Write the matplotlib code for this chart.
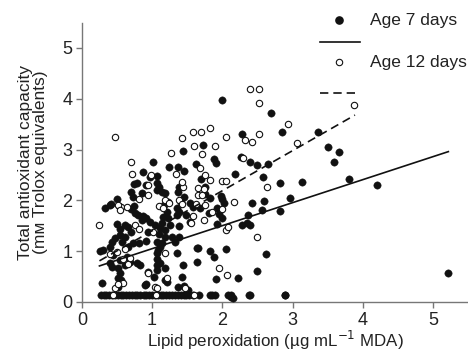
import matplotlib
matplotlib.use("Agg")
import matplotlib.pyplot as plt
from matplotlib.lines import Line2D

plt.rcParams['font.family'] = ['Liberation Sans', 'DejaVu Sans']

# ---- data: Age 7 days (filled) ----
x7 = [2.00, 2.70, 2.28, 1.72, 1.44, 1.01, 1.88, 1.91, 2.26, 2.40, 2.49, 1.62, 1.24, 1.37, 1.45, 0.87,
      0.97, 1.07, 1.69, 2.18, 0.78, 0.74, 0.91, 1.07, 1.10, 1.07, 1.14, 1.19, 0.70, 0.85, 0.73, 1.39,
      1.37, 1.45, 1.75, 1.76, 1.82, 1.98, 1.99, 2.42, 0.50, 0.41, 0.33, 0.74, 1.17, 1.41,
      2.85, 3.36, 3.50, 3.66, 3.59, 2.65, 2.58, 2.82, 3.13, 3.81, 4.21, 2.59, 2.96, 2.57, 2.82, 2.39,
      2.62, 5.21, 2.39, 2.90,
      0.40, 0.70, 0.75, 0.80, 0.87, 0.92, 0.85, 0.97, 0.50, 0.54, 0.61, 0.65, 0.70, 0.54, 0.61, 0.57,
      0.47, 0.43, 0.40, 0.30, 0.26, 0.44, 0.65, 0.73, 0.82, 0.92, 0.94, 1.04, 1.14, 1.11, 1.19, 1.25,
      1.10, 1.18, 1.07, 1.11, 1.08, 1.07, 1.35, 1.14, 1.28, 1.39, 1.32, 0.64, 0.54, 0.68, 0.61, 0.78,
      0.83, 0.40, 0.43, 0.51, 0.54, 0.51, 0.28, 0.51, 0.94, 1.02, 1.07, 1.07, 1.11, 1.07, 1.18, 1.18,
      0.90, 1.44, 1.64, 1.65, 1.82, 1.64, 1.42, 1.37, 1.45, 1.51, 1.49, 1.38, 1.54, 1.35, 1.39, 1.35,
      1.21, 1.22, 1.15, 1.22, 1.54, 1.58, 1.68, 1.81, 1.92, 1.95, 2.03, 1.99, 1.93, 2.05, 1.88, 1.91,
      2.22, 2.28, 2.35, 2.36, 2.49, 2.13, 0.55, 0.91, 1.21,
      0.27, 0.31, 0.35, 0.39, 0.43, 0.47, 0.51, 0.55, 0.59, 0.63, 0.67, 0.71, 0.75, 0.79, 0.83, 0.88,
      0.92, 0.96, 1.00, 1.04, 1.08, 1.12, 1.16, 1.20, 1.24, 1.28, 1.33, 1.37, 1.41, 1.45, 1.49, 1.53,
      1.58, 1.67, 1.82, 1.86, 1.90, 2.08, 2.12, 2.15, 2.38, 2.89]
y7 = [3.97, 3.72, 3.31, 3.10, 2.98, 2.76, 2.81, 2.73, 2.85, 2.75, 2.70, 2.72, 2.66, 2.66, 2.58, 2.56,
      2.46, 2.48, 2.42, 2.52, 2.35, 2.32, 2.30, 2.34, 2.26, 2.20, 2.17, 2.15, 2.17, 2.15, 2.07, 2.26,
      2.17, 2.07, 2.26, 2.13, 2.05, 2.09, 2.03, 1.95, 2.03, 1.93, 1.85, 1.89, 1.91, 1.97,
      3.35, 3.35, 3.05, 2.96, 2.75, 2.72, 2.46, 2.34, 2.36, 2.42, 2.30, 1.99, 2.05, 1.81, 1.79, 1.52,
      0.94, 0.58, 0.14, 0.14,
      1.91, 1.83, 1.75, 1.71, 1.69, 1.65, 1.61, 1.57, 1.53, 1.43, 1.51, 1.48, 1.38, 1.32, 1.28, 1.18,
      1.26, 1.18, 1.08, 1.02, 1.00, 0.92, 1.08, 1.16, 1.16, 1.20, 1.38, 1.52, 1.55, 1.45, 1.41, 1.52,
      1.34, 1.28, 1.18, 1.08, 1.02, 0.96, 0.96, 1.16, 1.28, 1.28, 1.18, 0.89, 0.83, 0.79, 0.73, 0.77,
      0.73, 0.77, 0.69, 0.67, 0.57, 0.47, 0.38, 0.30, 0.59, 0.50, 0.63, 0.85, 0.77, 0.73, 0.67, 0.43,
      0.33, 0.73, 1.06, 1.06, 1.00, 0.79, 0.50, 0.30, 0.32, 0.24, 1.71, 1.50, 1.57, 1.71, 1.77, 1.85,
      1.77, 1.65, 1.67, 1.97, 1.95, 1.87, 1.85, 1.75, 1.85, 1.73, 1.95, 1.65, 1.53, 1.04, 0.89, 0.45,
      0.47, 1.52, 1.55, 1.71, 0.61, 0.10, 0.43, 0.36, 0.39,
      0.13, 0.13, 0.13, 0.13, 0.13, 0.13, 0.13, 0.13, 0.13, 0.13, 0.13, 0.13, 0.13, 0.13, 0.13, 0.13,
      0.13, 0.13, 0.13, 0.13, 0.13, 0.13, 0.13, 0.13, 0.13, 0.13, 0.13, 0.13, 0.13, 0.13, 0.13, 0.13,
      0.13, 0.13, 0.13, 0.13, 0.13, 0.13, 0.13, 0.08, 0.13, 0.13]

# ---- data: Age 12 days (open) ----
x12 = [2.39, 2.52, 2.52, 3.87, 0.47, 1.58, 1.69, 1.82, 2.05, 1.42, 2.52, 2.33, 2.42, 1.59, 1.90, 1.27,
       1.71, 0.70, 2.29, 1.34, 0.71, 0.99, 1.68, 1.76, 1.83, 2.00, 2.05, 0.94, 0.94, 0.81, 1.44, 1.42,
       1.65, 1.74, 1.65, 1.71, 2.16, 0.53, 0.55, 0.64, 1.19, 1.24, 1.38,
       2.93, 3.06, 2.63, 2.49,
       0.51, 0.54, 0.24, 0.75, 0.82, 1.01, 0.40, 0.50, 0.61, 1.18, 0.58, 0.65, 0.68, 0.47, 0.58, 0.94,
       1.21, 1.04, 1.07, 1.47, 1.74, 1.58, 1.56, 1.10, 1.15, 1.42, 1.62, 1.75, 1.86, 2.00, 2.05, 2.08,
       1.96, 2.06, 0.51, 1.60, 1.05, 0.45]
y12 = [4.19, 4.19, 3.91, 3.87, 3.25, 3.35, 3.35, 3.42, 3.25, 3.23, 3.30, 3.19, 3.14, 3.07, 3.07, 2.94,
       2.91, 2.75, 2.83, 2.52, 2.52, 2.50, 2.64, 2.50, 2.40, 2.38, 2.38, 2.30, 2.11, 2.03, 2.26, 2.36,
       2.24, 2.22, 2.11, 2.11, 1.97, 1.89, 1.87, 1.87, 2.01, 1.95, 2.01,
       3.50, 3.12, 2.27, 1.28,
       1.91, 1.81, 1.52, 1.52, 1.43, 1.38, 0.94, 0.98, 1.04, 0.96, 0.85, 0.75, 0.87, 0.27, 0.38, 0.57,
       0.47, 0.30, 0.27, 0.27, 1.61, 1.69, 1.55, 1.89, 1.85, 1.93, 1.93, 1.91, 1.77, 1.83, 1.41, 1.48,
       0.67, 0.53, 0.36, 0.13, 0.13, 0.13]

# regression lines (end points)
fit7_x = [0.25, 5.22]
fit7_y = [0.71, 2.96]
fit12_x = [0.25, 3.89]
fit12_y = [0.81, 3.68]

xticks = [0, 1, 2, 3, 4, 5]
yticks = [0, 1, 2, 3, 4, 5]

TXT = '#222222'
SP = '#777777'

fig = plt.figure(figsize=(4.68, 3.53), dpi=100)
ax = fig.add_axes([0.175, 0.1445, 0.825, 0.7915])

ax.scatter(x7, y7, s=28, c='#111111', edgecolors='#111111', linewidths=0.3, zorder=3)
ax.scatter(x12, y12, s=21, facecolors='white', edgecolors='#111111', linewidths=0.8, zorder=4)
ax.plot(fit7_x, fit7_y, color='#111111', lw=1.2, zorder=5)
ax.plot(fit12_x, fit12_y, color='#111111', lw=1.2, dashes=(5, 3), zorder=5)

ax.set_xlim(0, 5.5)
ax.set_ylim(0, 5.5)
ax.set_xticks(xticks)
ax.set_yticks(yticks)
for s in ['top', 'right']:
    ax.spines[s].set_visible(False)
for s in ['left', 'bottom']:
    ax.spines[s].set_color(SP)
    ax.spines[s].set_linewidth(1.0)
ax.tick_params(direction='out', length=4, width=1.0, color=SP, labelsize=13, labelcolor=TXT, pad=3)

ax.set_xlabel('Lipid peroxidation (µg mL$^{-1}$ MDA)', fontsize=12.2, color=TXT, labelpad=0)
ax.set_ylabel('Total antioxidant capacity\n(mᴍ Trolox equivalents)', fontsize=12.5, color=TXT,
              linespacing=1.0)
ax.yaxis.set_label_coords(-0.088, 0.5)

# legend drawn by hand in figure pixel coordinates
def fx(px):
    return px / 468.0

def fy(py):
    return 1 - py / 353.0

fig.add_artist(Line2D([fx(339)], [fy(20)], marker='o', ms=5.2, color='#111111', ls='none'))
fig.text(fx(370), fy(20), 'Age 7 days', fontsize=12.5, color=TXT, va='center')
fig.add_artist(Line2D([fx(320), fx(360)], [fy(42), fy(42)], color='#111111', lw=1.2))
fig.add_artist(Line2D([fx(339)], [fy(62)], marker='o', ms=4.6, mfc='white', mec='#111111', mew=0.8, ls='none'))
fig.text(fx(370), fy(62), 'Age 12 days', fontsize=12.5, color=TXT, va='center')
fig.add_artist(Line2D([fx(320), fx(360)], [fy(93), fy(93)], color='#111111', lw=1.2, dashes=(5, 3)))

fig.savefig('out.png', dpi=100)
